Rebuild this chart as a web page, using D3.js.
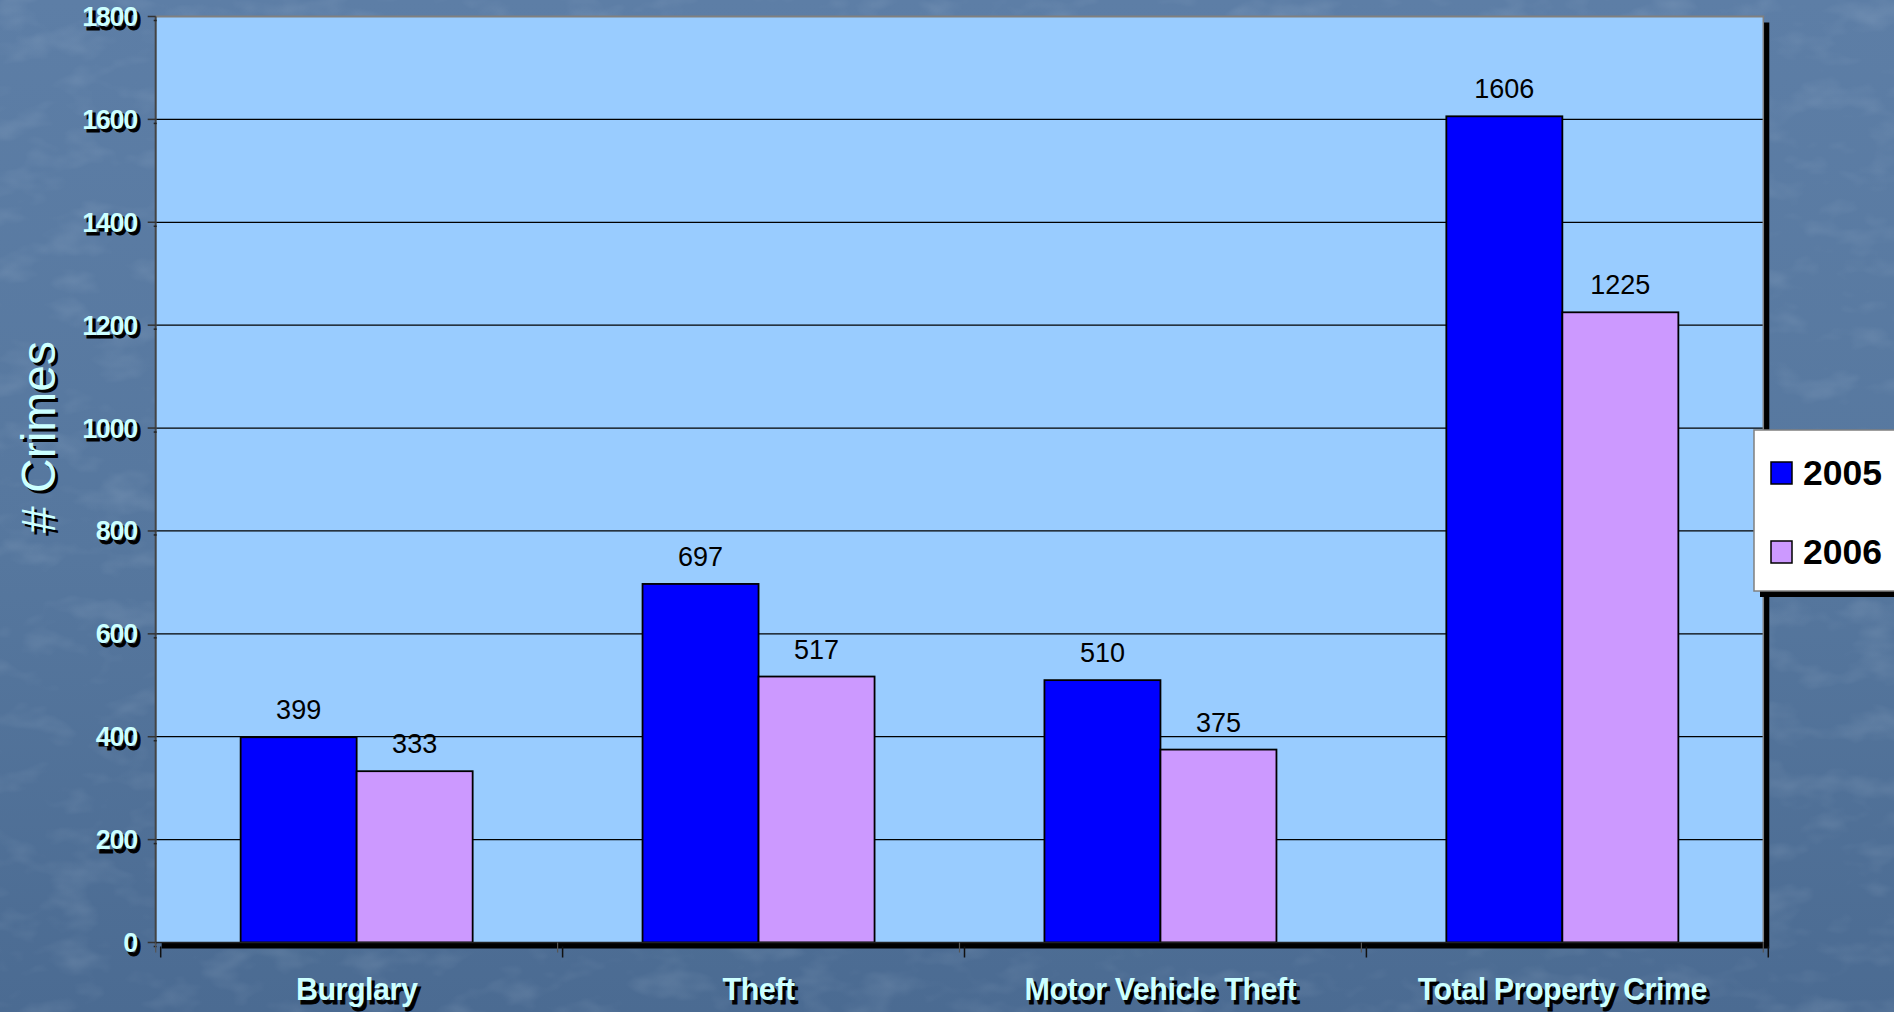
<!DOCTYPE html>
<html><head><meta charset="utf-8">
<script src="https://cdn.jsdelivr.net/npm/d3@7/dist/d3.min.js"></script>
<style>html,body{margin:0;padding:0;overflow:hidden;background:#56769d}</style>
</head><body>
<svg id="c" width="1894" height="1012"></svg>
<script>
const categories = ["Burglary","Theft","Motor Vehicle Theft","Total Property Crime"];
const seriesNames = ["2005","2006"];
const values2005 = [399,697,510,1606];
const values2006 = [333,517,375,1225];
const yTicks = [0,200,400,600,800,1000,1200,1400,1600,1800];
const colors = ["#0000ff","#cc99ff"];

const W=1894,H=1012;
const L=155.7,R=1763.3,T=16.5,B=942.5;
const svg=d3.select("#c");
const defs=svg.append("defs");
const lg=defs.append("linearGradient").attr("id","bg").attr("x1",0).attr("y1",0).attr("x2",0).attr("y2",1);
lg.append("stop").attr("offset","0%").attr("stop-color","#5d7ea6");
lg.append("stop").attr("offset","55%").attr("stop-color","#56779e");
lg.append("stop").attr("offset","100%").attr("stop-color","#4b6b92");
const f=defs.append("filter").attr("id","tex").attr("x",0).attr("y",0).attr("width","100%").attr("height","100%");
f.append("feTurbulence").attr("type","fractalNoise").attr("baseFrequency","0.02 0.035").attr("numOctaves",3).attr("seed",11).attr("result","n");
f.append("feColorMatrix").attr("in","n").attr("type","matrix")
 .attr("values","0 0 0 0 0.72  0 0 0 0 0.82  0 0 0 0 0.92  1.4 0 0 0 -0.7");
svg.append("rect").attr("width",W).attr("height",H).attr("fill","url(#bg)");
svg.append("rect").attr("width",W).attr("height",H).attr("filter","url(#tex)").attr("opacity",0.2);

const y=d3.scaleLinear().domain([0,1800]).range([B,T]);
const x=d3.scaleBand().domain(categories).range([L,R]).paddingInner(0.4227).paddingOuter(0.4227/2);
const xs=d3.scaleBand().domain(seriesNames).range([0,x.bandwidth()]);

// plot shadow
svg.append("rect").attr("x",L+6).attr("y",T+6).attr("width",R-L).attr("height",B-T).attr("fill","#000");
// plot area
svg.append("rect").attr("x",L).attr("y",T).attr("width",R-L).attr("height",B-T).attr("fill","#99ccff");
// gridlines
svg.append("g").selectAll("line").data(yTicks.filter(d=>d>0&&d<1800)).join("line")
 .attr("x1",L).attr("x2",R).attr("y1",d=>y(d)).attr("y2",d=>y(d)).attr("stroke","#000").attr("stroke-width",1.3);
// border
svg.append("line").attr("x1",L).attr("x2",R+1).attr("y1",T).attr("y2",T).attr("stroke","#808080").attr("stroke-width",2);
svg.append("line").attr("x1",R).attr("x2",R).attr("y1",T).attr("y2",B).attr("stroke","#808080").attr("stroke-width",1.5);

// bars
const data=[];
categories.forEach((c,i)=>{data.push({c,s:"2005",v:values2005[i],k:0});data.push({c,s:"2006",v:values2006[i],k:1});});
svg.append("g").selectAll("rect").data(data).join("rect")
 .attr("x",d=>x(d.c)+xs(d.s)).attr("y",d=>y(d.v)).attr("width",xs.bandwidth()).attr("height",d=>B-y(d.v))
 .attr("fill",d=>colors[d.k]).attr("stroke","#000").attr("stroke-width",1.8);
svg.append("g").selectAll("text").data(data).join("text")
 .attr("x",d=>x(d.c)+xs(d.s)+xs.bandwidth()/2).attr("y",d=>y(d.v)-18)
 .attr("text-anchor","middle").attr("font-family","Liberation Sans, Arial, sans-serif").attr("font-size",27)
 .attr("fill","#000").text(d=>d.v);

// y axis line
svg.append("line").attr("x1",L).attr("x2",L).attr("y1",T).attr("y2",B+2).attr("stroke","#444").attr("stroke-width",2);
// bottom axis line
svg.append("line").attr("x1",L).attr("x2",R).attr("y1",B).attr("y2",B).attr("stroke","#222").attr("stroke-width",1.5);

function shadowText(g,xp,yp,txt,opts){
  const a=g.append("text").attr("x",xp+3).attr("y",yp+3.5).attr("fill","#000").attr("stroke","#000").attr("stroke-width",0.8);
  const b=g.append("text").attr("x",xp).attr("y",yp).attr("fill","#ccffff");
  [a,b].forEach(t=>{t.text(txt).attr("font-family","Liberation Sans, Arial, sans-serif");
    for(const k in opts) t.attr(k,opts[k]);});
}
// y ticks
const yg=svg.append("g");
yTicks.forEach(v=>{
  yg.append("line").attr("x1",L-8).attr("x2",L).attr("y1",y(v)).attr("y2",y(v)).attr("stroke","#333").attr("stroke-width",1.5);
  yg.append("line").attr("x1",L-2).attr("x2",L+1).attr("y1",y(v)+4).attr("y2",y(v)+4).attr("stroke","#222").attr("stroke-width",1.5);
  shadowText(yg,137,y(v)+9.5,String(v),{"text-anchor":"end","font-size":27,"font-weight":"bold","letter-spacing":-1.3});
});
// x ticks
const xg=svg.append("g");
const bounds=[L].concat(categories.map(c=>x(c)+x.bandwidth()+x.step()*x.paddingInner()/2));
bounds.forEach((bx,i)=>{
  const xx=(i===bounds.length-1)?R:bx;
  xg.append("line").attr("x1",xx).attr("x2",xx).attr("y1",B).attr("y2",B+10).attr("stroke","#555").attr("stroke-width",1.2);
  xg.append("line").attr("x1",xx+5).attr("x2",xx+5).attr("y1",B+4).attr("y2",B+15).attr("stroke","#111").attr("stroke-width",1.5);
});
categories.forEach(c=>{
  shadowText(xg,x(c)+x.bandwidth()/2,1000,c,{"text-anchor":"middle","font-size":30.5,"font-weight":"bold","letter-spacing":-0.5});
});
// y title
const tg=svg.append("g");
[["#000",3,3],["#ccffff",0,0]].forEach(([col,dx,dy])=>{
  tg.append("text").attr("transform",`translate(${55+dx},${437+dy}) rotate(-90)`).attr("text-anchor","middle")
   .attr("font-family","Liberation Sans, Arial, sans-serif").attr("font-size",48).attr("fill",col).text("# Crimes");
});

// legend
const lgG=svg.append("g");
lgG.append("rect").attr("x",1760).attr("y",436).attr("width",200).attr("height",161).attr("fill","#000");
lgG.append("rect").attr("x",1754).attr("y",430).attr("width",200).attr("height",161).attr("fill","#fff").attr("stroke","#808080").attr("stroke-width",1.5);
seriesNames.forEach((s,i)=>{
  const yy=[462,541][i];
  lgG.append("rect").attr("x",1771).attr("y",yy).attr("width",21).attr("height",22).attr("fill",colors[i]).attr("stroke","#000").attr("stroke-width",1.5);
  lgG.append("text").attr("x",1803).attr("y",yy+23).attr("font-family","Liberation Sans, Arial, sans-serif")
   .attr("font-size",35.5).attr("font-weight","bold").attr("fill","#000").text(s);
});
</script>
</body></html>
